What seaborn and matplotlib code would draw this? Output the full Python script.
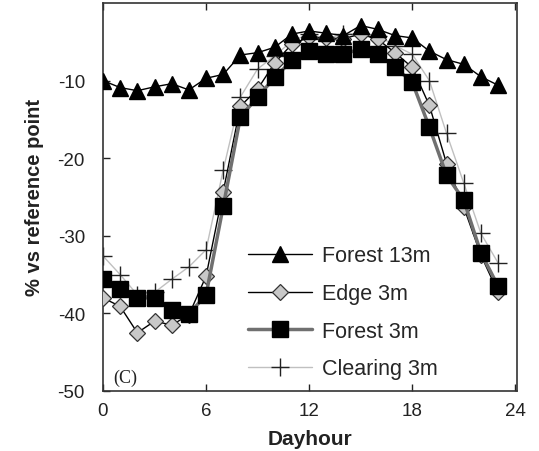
import numpy as np
import pandas as pd
import matplotlib
matplotlib.use("Agg")
import matplotlib.pyplot as plt
import seaborn as sns

hours = list(range(24))
forest13 = [-10.0, -10.9, -11.3, -10.8, -10.4, -11.2, -9.7, -9.2, -6.7, -6.4, -5.7, -4.0,
            -3.6, -3.9, -4.2, -2.9, -3.4, -4.2, -4.5, -6.2, -7.3, -7.9, -9.5, -10.6]
edge3 = [-38.0, -39.1, -42.5, -41.0, -41.5, -40.2, -35.2, -24.3, -13.3, -11.1, -7.7, -5.3,
         -4.4, -4.5, -4.6, -4.0, -4.7, -6.4, -8.3, -13.2, -20.7, -26.3, -32.5, -37.3]
forest3 = [-35.6, -36.9, -38.0, -38.0, -39.5, -40.1, -37.6, -26.2, -14.7, -12.1, -9.6, -7.4,
           -6.2, -6.6, -6.6, -5.9, -6.6, -8.3, -10.2, -16.0, -22.2, -25.4, -32.2, -36.5]
clearing3 = [-32.6, -35.0, -37.6, -37.3, -35.6, -34.0, -31.8, -21.5, -12.1, -8.5, -6.8, -4.9,
             -4.0, -4.6, -4.0, -4.0, -4.2, -5.5, -6.6, -10.0, -16.8, -23.2, -29.7, -33.5]
series_names = ["Forest 13m", "Edge 3m", "Forest 3m", "Clearing 3m"]
x_ticks = [0, 6, 12, 18, 24]
y_ticks = [-50, -40, -30, -20, -10]

sns.set_style("ticks")
plt.rcParams['font.family'] = ['Liberation Sans', 'DejaVu Sans']
plt.rcParams['axes.unicode_minus'] = False

fig = plt.figure(figsize=(5.39, 4.52), dpi=100)
ax = fig.add_axes([103/539, 1-392/452, 414/539, 388/452])

styles = {
    "Forest 13m": dict(color="black", lw=1.0, marker="^", ms=11, mfc="black", mec="black", zorder=5),
    "Edge 3m": dict(color="black", lw=1.0, marker="D", ms=8.5, mfc="#c8c8c8", mec="#333333", mew=0.9, zorder=3),
    "Forest 3m": dict(color="#707070", lw=2.5, marker="s", ms=12, mfc="black", mec="black", zorder=4),
    "Clearing 3m": dict(color="#c0c0c0", lw=1.0, marker="+", ms=13, mfc="black", mec="#222222", mew=1.0, zorder=2),
}
values = {"Forest 13m": forest13, "Edge 3m": edge3, "Forest 3m": forest3, "Clearing 3m": clearing3}

handles = []
for name in series_names:
    df = pd.DataFrame({"hour": hours, "val": values[name]})
    st = styles[name]
    sns.lineplot(data=df, x="hour", y="val", ax=ax, color=st["color"], linewidth=st["lw"],
                 marker=st["marker"], markersize=st["ms"], markerfacecolor=st["mfc"],
                 markeredgecolor=st["mec"], markeredgewidth=st.get("mew", 1.0),
                 zorder=st["zorder"], label=name, legend=False)
    handles.append(ax.lines[-1])

ax.set_xlim(0, 24.1)
ax.set_ylim(-50, 0)
ax.set_xticks(x_ticks)
ax.set_yticks(y_ticks)
ax.tick_params(direction="in", length=5, width=1, labelsize=13.5, colors="#222222",
               top=True, right=False)
ax.tick_params(axis="y", pad=13)
ax.tick_params(axis="x", pad=8)
for s in ax.spines.values():
    s.set_linewidth(1.2)
    s.set_color("#333333")
ax.set_xlabel("Dayhour", fontsize=15, fontweight="bold", labelpad=7, color="#222222")
ax.set_ylabel("% vs reference point", fontsize=14.5, fontweight="bold", labelpad=10, color="#222222")

ax.text(0.025, 0.012, "(C)", transform=ax.transAxes, fontsize=13,
        family=["Liberation Serif", "DejaVu Serif"], va="bottom", ha="left", color="#222222")

ax.legend(handles=handles, labels=series_names, loc="upper left",
          bbox_to_anchor=(0.35, 0.375), frameon=False, fontsize=15.5,
          handlelength=3.0, handletextpad=0.45, labelspacing=0.77, borderpad=0,
          borderaxespad=0)

fig.savefig("out.png", dpi=100)
